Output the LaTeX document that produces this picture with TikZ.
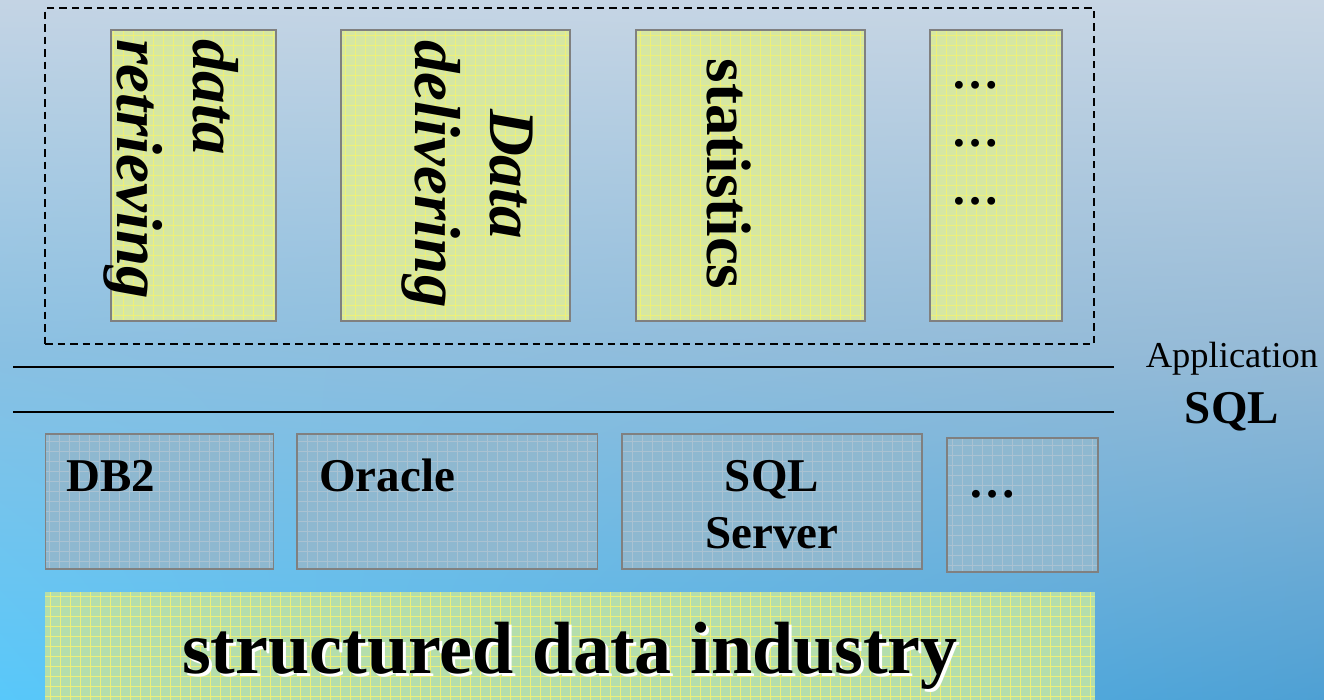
\documentclass[tikz,border=0pt]{standalone}
\usepackage{fontspec}
\setmainfont{Liberation Serif}
\usetikzlibrary{shadings}
\definecolor{bgtl}{RGB}{196,212,228}
\definecolor{bgtr}{RGB}{200,214,228}
\definecolor{bgml}{RGB}{138,192,226}
\definecolor{bgmr}{RGB}{150,186,214}
\definecolor{bgbl}{RGB}{88,200,250}
\definecolor{bgbr}{RGB}{78,160,212}
\definecolor{yfill}{RGB}{214,231,162}
\definecolor{ygrid}{RGB}{238,240,120}
\definecolor{dbfill}{RGB}{142,184,208}
\definecolor{dbgrid}{RGB}{170,194,210}
\definecolor{barfill}{RGB}{180,222,172}
\definecolor{boxline}{RGB}{128,128,128}
\tikzset{
  ybox/.style={draw=boxline, line width=1.6pt, fill=yfill, inner sep=0pt,
    path picture={\draw[ygrid, line width=0.6pt] (path picture bounding box.south west) grid[step=10pt] (path picture bounding box.north east);}},
  dbbox/.style={draw=boxline, line width=1.6pt, fill=dbfill, inner sep=0pt,
    path picture={\draw[dbgrid, line width=0.6pt] (path picture bounding box.south west) grid[step=10pt] (path picture bounding box.north east);}},
  barbox/.style={fill=barfill, inner sep=0pt,
    path picture={\draw[ygrid, line width=0.6pt] (path picture bounding box.south west) grid[step=10pt] (path picture bounding box.north east);}},
  vtxt/.style={rotate=-90, inner sep=0pt, font=\fontsize{65}{76}\selectfont\bfseries\itshape},
  vtxtup/.style={rotate=-90, inner sep=0pt, font=\fontsize{63}{74}\selectfont\bfseries},
  dbtxt/.style={inner sep=0pt, font=\fontsize{47}{56}\selectfont\bfseries},
  dots/.style={inner sep=0pt, font=\fontsize{48}{56}\selectfont\bfseries},
  sepline/.style={line width=1.6pt, black},
}
\begin{document}
\begin{tikzpicture}[x=1pt,y=-1pt]
\useasboundingbox (0,0) rectangle (1324,699);
% background
\shade[upper left=bgtl, upper right=bgtr, lower left=bgml, lower right=bgmr] (0,0) rectangle (1324,350.5);
\shade[upper left=bgml, upper right=bgmr, lower left=bgbl, lower right=bgbr] (0,350) rectangle (1324,699);

% application group
\node[draw=black, line width=1.6pt, dash pattern=on 7.5pt off 5pt, minimum width=1049pt, minimum height=336pt, inner sep=0pt] (app) at (569.5,176) {};

\node[ybox, minimum width=165pt, minimum height=291pt] (b1) at (193.5,175.5) {};
\node[ybox, minimum width=229pt, minimum height=291pt] (b2) at (455.5,175.5) {};
\node[ybox, minimum width=229pt, minimum height=291pt] (b3) at (750.5,175.5) {};
\node[ybox, minimum width=132pt, minimum height=291pt] (b4) at (996,175.5) {};

\node[vtxt, anchor=base west] (t1a) at (193,39) {data};
\node[vtxt, anchor=base west] (t1b) at (117,39) {retrieving};
\node[vtxt, anchor=base] (t2a) at (490,174) {Data};
\node[vtxt, anchor=base] (t2b) at (415,174) {delivering};
\node[vtxtup, anchor=base] (t3) at (707,174) {statistics};
\node[dots, anchor=base] (d1) at (975,88) {…};
\node[dots, anchor=base] (d2) at (975,146) {…};
\node[dots, anchor=base] (d3) at (975,204) {…};

% separator lines
\coordinate (l1a) at (13,367);
\coordinate (l1b) at (1114,367);
\coordinate (l2a) at (13,412);
\coordinate (l2b) at (1114,412);
\draw[sepline] (l1a) -- (l1b);
\draw[sepline] (l2a) -- (l2b);

\node[inner sep=0pt, anchor=base, font=\fontsize{36.5}{40}\selectfont] (appl) at (1232,367) {Application};
\node[inner sep=0pt, anchor=base, font=\fontsize{47}{54}\selectfont\bfseries] (sql) at (1232,423) {SQL};

% database boxes
\node[dbbox, minimum width=228pt, minimum height=135pt] (db2) at (159.5,501.5) {};
\node[dbbox, minimum width=300.5pt, minimum height=135pt] (ora) at (447.25,501.5) {};
\node[dbbox, minimum width=300pt, minimum height=135pt] (mss) at (772,501.5) {};
\node[dbbox, minimum width=151pt, minimum height=134pt] (dbx) at (1022.5,505) {};

\node[dbtxt, anchor=base west] (db2t) at (66,491) {DB2};
\node[dbtxt, anchor=base west] (orat) at (319,491) {Oracle};
\node[dbtxt, anchor=base] (msst1) at (772,491) {SQL};
\node[dbtxt, anchor=base] (msst2) at (772,548) {Server};
\node[dots, anchor=base] (dbxt) at (992,497) {…};

% bottom bar
\node[barbox, minimum width=1050pt, minimum height=108pt] (bar) at (570,646) {};
\node[inner sep=0pt, anchor=base, white, font=\fontsize{74}{80}\selectfont\bfseries] (barsh) at (573,676) {structured data industry};
\node[inner sep=0pt, anchor=base, black, font=\fontsize{74}{80}\selectfont\bfseries] (bart) at (570,673) {structured data industry};
\end{tikzpicture}
\end{document}
